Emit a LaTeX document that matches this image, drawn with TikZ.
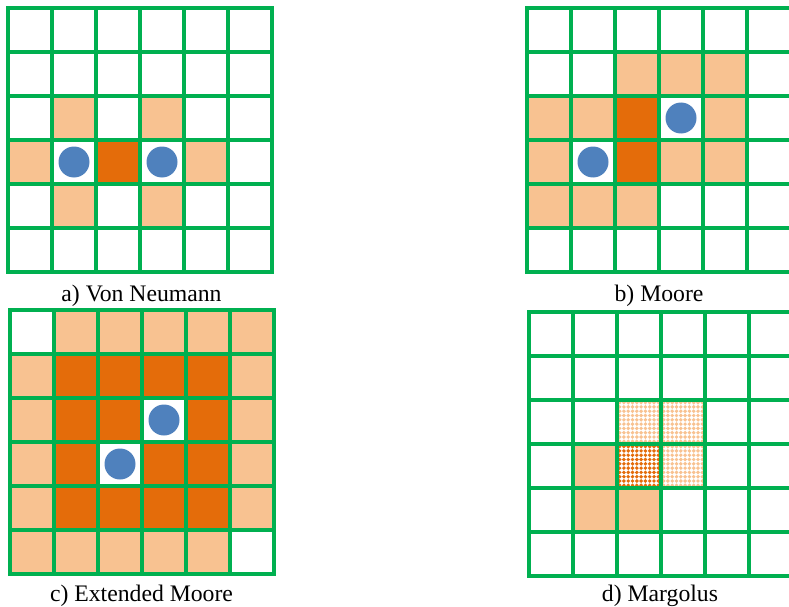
\documentclass[tikz,border=0pt]{standalone}
\usepackage{fontspec}
\setmainfont{Liberation Serif}
\definecolor{gridgreen}{HTML}{00B050}
\definecolor{peach}{HTML}{F8C291}
\definecolor{burnt}{HTML}{E46C0A}
\definecolor{dotblue}{HTML}{4F81BD}
\newcommand\pitch{44}
% filled cell at column #1, row #2 (rows counted downwards)
\newcommand\cellfill[3]{\fill[#3] (#1*\pitch,#2*\pitch) rectangle ++(\pitch,\pitch);}
% blue marker in the middle of a cell
\newcommand\cellmark[2]{\fill[dotblue] (#1*\pitch+22,#2*\pitch+22) circle (15.5pt);}
% dotted (stippled) cell
\newcommand\cellstipple[3]{%
  \begin{scope}
    \clip (#1*\pitch,#2*\pitch) rectangle ++(\pitch,\pitch);
    \foreach \i in {0,...,10}{\foreach \j in {0,...,10}{%
      \fill[#3] (#1*\pitch+\i*4.3+2.6,#2*\pitch+\j*4.3+2.6) circle (1.95pt);}}
  \end{scope}}
% the 6x6 green lattice
\newcommand\lattice{%
  \foreach \k in {0,...,6}{%
    \draw[gridline] (\k*\pitch,0) -- (\k*\pitch,6*\pitch);
    \draw[gridline] (0,\k*\pitch) -- (6*\pitch,\k*\pitch);}}
\begin{document}
\begin{tikzpicture}[x=1pt,y=-1pt,
  gridline/.style={gridgreen,line width=4.4pt,line cap=rect},
  caption/.style={anchor=base,inner sep=0pt,font=\fontsize{23.7}{28}\selectfont}]
\useasboundingbox (0,0) rectangle (789,607);
\clip (0,0) rectangle (789,607);

% a) Von Neumann
\begin{scope}[shift={(8,8)}]
  \cellfill{1}{2}{peach}\cellfill{3}{2}{peach}
  \cellfill{0}{3}{peach}\cellfill{2}{3}{burnt}\cellfill{4}{3}{peach}
  \cellfill{1}{4}{peach}\cellfill{3}{4}{peach}
  \cellmark{1}{3}\cellmark{3}{3}
  \lattice
\end{scope}

% b) Moore
\begin{scope}[shift={(527,8)}]
  \foreach \c in {2,3,4}{\cellfill{\c}{1}{peach}}
  \cellfill{0}{2}{peach}\cellfill{1}{2}{peach}\cellfill{2}{2}{burnt}\cellfill{4}{2}{peach}
  \cellfill{0}{3}{peach}\cellfill{2}{3}{burnt}\cellfill{3}{3}{peach}\cellfill{4}{3}{peach}
  \foreach \c in {0,1,2}{\cellfill{\c}{4}{peach}}
  \cellmark{3}{2}\cellmark{1}{3}
  \lattice
\end{scope}

% c) Extended Moore
\begin{scope}[shift={(10,310)}]
  \foreach \c in {1,...,5}{\cellfill{\c}{0}{peach}}
  \foreach \c in {0,...,4}{\cellfill{\c}{5}{peach}}
  \foreach \r in {1,...,4}{\cellfill{0}{\r}{peach}\cellfill{5}{\r}{peach}}
  \foreach \r in {1,...,4}{\foreach \c in {1,...,4}{\cellfill{\c}{\r}{burnt}}}
  \cellfill{3}{2}{white}\cellfill{2}{3}{white}
  \cellmark{3}{2}\cellmark{2}{3}
  \lattice
\end{scope}

% d) Margolus
\begin{scope}[shift={(529,312)}]
  \cellstipple{2}{2}{peach}\cellstipple{3}{2}{peach}
  \cellstipple{3}{3}{peach}\cellstipple{2}{3}{burnt}
  \cellfill{1}{3}{peach}\cellfill{1}{4}{peach}\cellfill{2}{4}{peach}
  \lattice
\end{scope}

\node[caption] (capa) at (141.5,301) {a) Von Neumann};
\node[caption] (capb) at (659,301) {b) Moore};
\node[caption] (capc) at (141.5,601) {c) Extended Moore};
\node[caption] (capd) at (660,601) {d) Margolus};
\end{tikzpicture}
\end{document}
